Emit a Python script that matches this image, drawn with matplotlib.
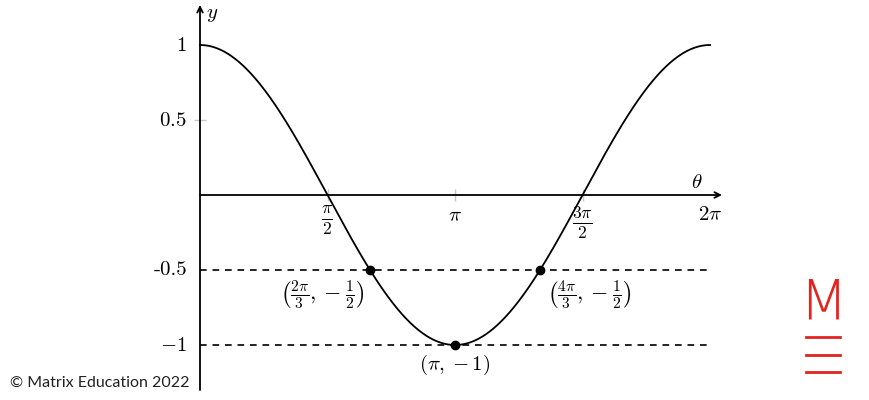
import numpy as np
import matplotlib
matplotlib.use("Agg")
import matplotlib.pyplot as plt

plt.rcParams['mathtext.fontset'] = 'cm'

# data
theta = np.linspace(0, 2 * np.pi, 500)
curve = np.cos(theta)
x_ticks = [np.pi / 2, np.pi, 3 * np.pi / 2]
x_tick_labels = [r'$\frac{\pi}{2}$', r'$\pi$', r'$\frac{3\pi}{2}$']
y_ticks = [1, 0.5, -0.5, -1]
y_tick_labels = [r'$1$', r'$0.5$', '-0.5', r'$-1$']
dash_levels = [-0.5, -1]
pts_x = [2 * np.pi / 3, np.pi, 4 * np.pi / 3]
pts_y = [-0.5, -1, -0.5]
pts_labels = [r'$\left(\frac{2\pi}{3},-\frac{1}{2}\right)$',
              r'$(\pi,-1)$',
              r'$\left(\frac{4\pi}{3},-\frac{1}{2}\right)$']

fig = plt.figure(figsize=(8.7, 4.0), dpi=100)
ax = fig.add_axes([0, 0, 1, 1])
sx = 510 / (2 * np.pi)   # pixels per radian
sy = 150.0               # pixels per unit
ax.set_xlim(-200 / sx, 670 / sx)
ax.set_ylim(-205 / sy, 195 / sy)
ax.axis('off')

# axes with arrows
ax.annotate('', xy=(522 / sx, 0), xytext=(0, 0),
            arrowprops=dict(arrowstyle='->', lw=1.3, color='black', shrinkA=0, shrinkB=0))
ax.annotate('', xy=(0, 190 / sy), xytext=(0, -195 / sy),
            arrowprops=dict(arrowstyle='->', lw=1.3, color='black', shrinkA=0, shrinkB=0))

# light ticks
ax.plot(x_ticks, [0] * len(x_ticks), ls='none', marker='|', ms=9, color='#c8c8c8', mew=1)
ax.plot([0], [0.5], ls='none', marker='_', ms=9, color='#c8c8c8', mew=1)

# dashed reference lines
for lv in dash_levels:
    ax.plot([0, 2 * np.pi], [lv, lv], ls=(0, (4, 3.5)), color='black', lw=1.2)

# curve
ax.plot(theta, curve, color='black', lw=1.3)
ax.plot(pts_x, pts_y, 'o', color='black', ms=6)

# tick labels
for xv, lab in zip(x_ticks, x_tick_labels):
    frac = lab.startswith(r'$\frac')
    ax.text(xv, -9 / sy if frac else -10 / sy, lab, ha='center', va='top',
            fontsize=18 if frac else 15)
ax.text(2 * np.pi, -9 / sy, r'$2\pi$', ha='center', va='top', fontsize=15)
for yv, lab in zip(y_ticks, y_tick_labels):
    ax.text(-13 / sx, yv, lab, ha='right', va='center', fontsize=15,
            family='cmr10' if not lab.startswith('$') else None)

ax.text(12 / sx, 181 / sy, r'$y$', ha='center', va='center', fontsize=15)
ax.text(497 / sx, 13 / sy, r'$\theta$', ha='center', va='center', fontsize=15)

# point labels
ax.text(pts_x[0] - 48 / sx, -0.5 - 8 / sy, pts_labels[0], ha='center', va='top', fontsize=16)
ax.text(pts_x[1], -1 - 8 / sy, pts_labels[1], ha='center', va='top', fontsize=15)
ax.text(pts_x[2] + 49 / sx, -0.5 - 8 / sy, pts_labels[2], ha='center', va='top', fontsize=16)

# footer and logo
fig.text(10 / 870, 1 - 383 / 400, '\u00a9 Matrix Education 2022', ha='left', va='center',
         fontsize=11.5, family='Lato', color='#222222')
red = '#e3231f'
fig.text(823 / 870, 1 - 304 / 400, 'M', ha='center', va='center', fontsize=40,
         family='DejaVu Sans', weight='ultralight', color=red)
for yy in [337, 355, 372]:
    fig.add_artist(plt.Line2D([806 / 870, 840 / 870], [1 - yy / 400, 1 - yy / 400],
                              color=red, lw=2))

fig.savefig('out.png', dpi=100)
